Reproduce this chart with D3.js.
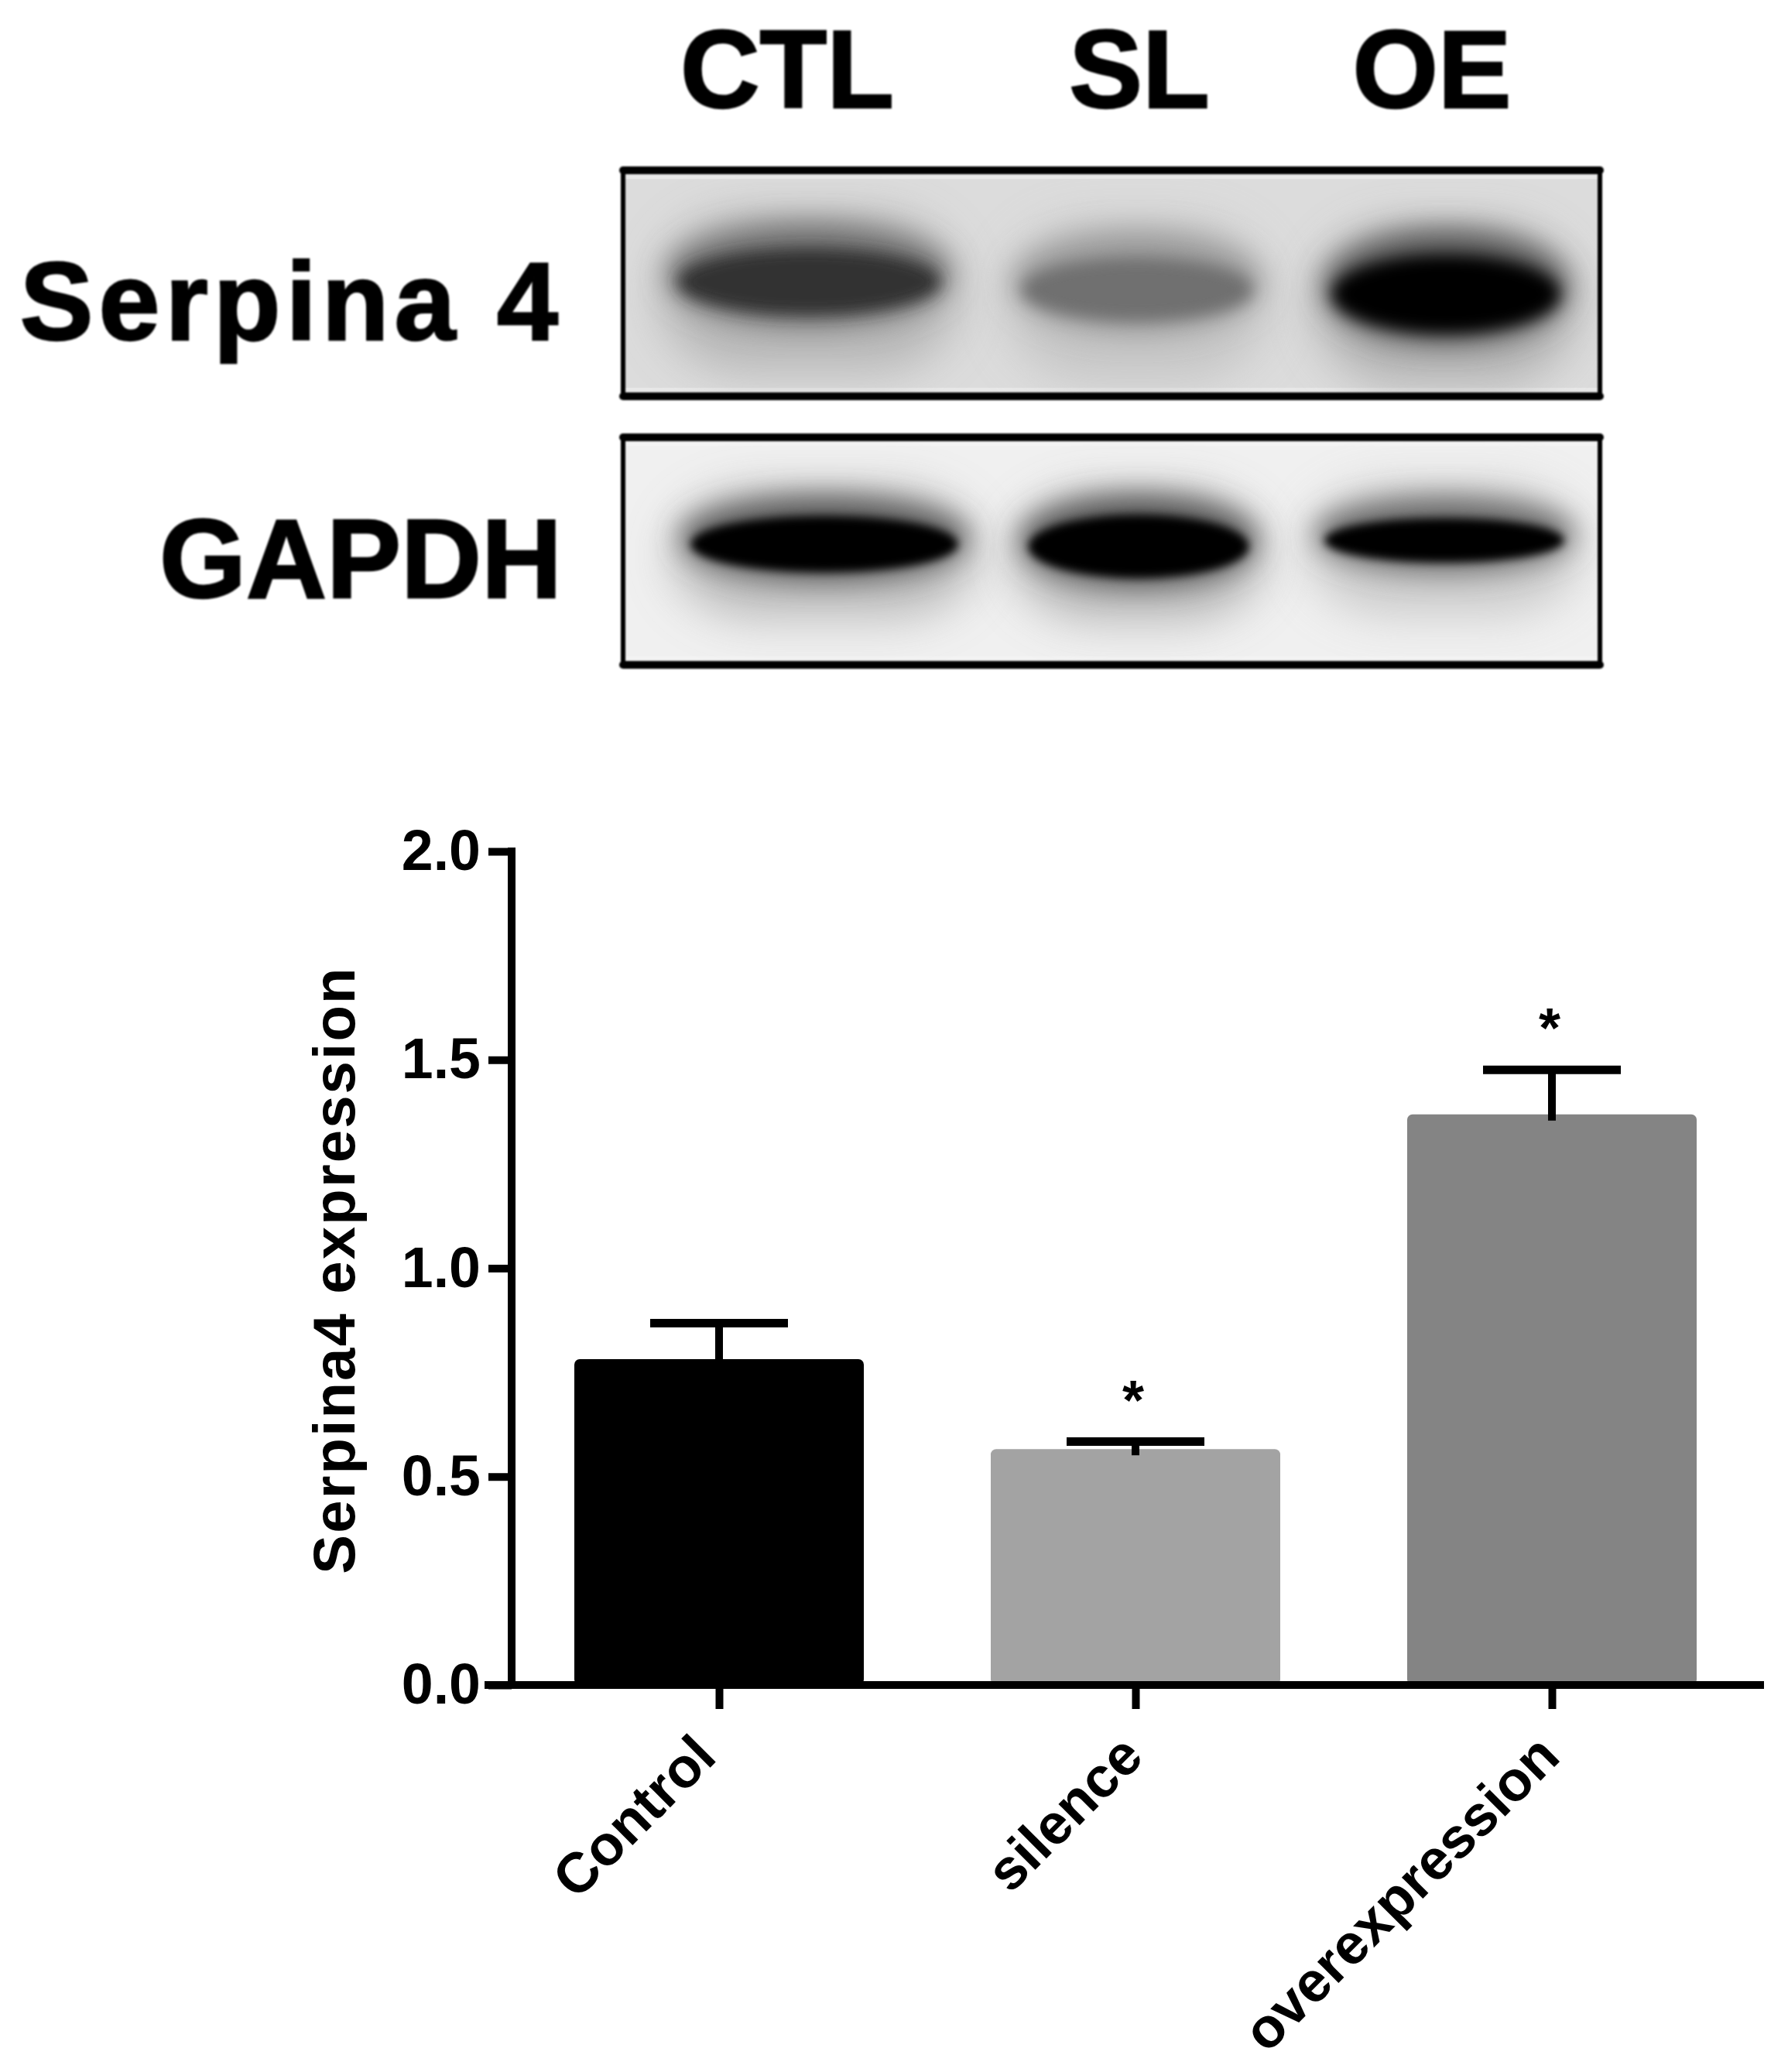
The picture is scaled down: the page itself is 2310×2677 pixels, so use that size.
<!DOCTYPE html>
<html><head><meta charset="utf-8">
<script src="https://cdn.jsdelivr.net/npm/d3@7"></script>
<style>html,body{margin:0;background:#fff}svg{display:block}text{font-family:"Liberation Sans",Arial,sans-serif;font-weight:700;fill:#000}</style>
</head><body><svg id="c" width="2310" height="2677"></svg>
<script>
// ---- bar chart data
const categories = ["Control", "silence", "overexpression"];
const means = [0.782, 0.566, 1.369];
const errorTops = [0.868, 0.584, 1.476];
const barColors = ["#000000", "#a3a3a3", "#848484"];
const significance = ["", "*", "*"];
const yTicks = [0, 0.5, 1, 1.5, 2];
const yLabel = "Serpina4 expression";
// ---- blot data
const laneLabels = ["CTL", "SL", "OE"];
const serpinaCentres = [1045, 1469, 1868];
const serpinaRows = [364, 374, 380];
const serpinaWidths = [346, 304, 300];
const serpinaHeights = [78, 74, 92];
const serpinaCore = ["#333333", "#707070", "#000000"];
const serpinaHalo = ["#a8a8a8", "#bcbcbc", "#a0a0a0"];
const gapdhCentres = [1065, 1471, 1866];
const gapdhRows = [703, 706, 698];
const gapdhWidths = [352, 290, 316];
const gapdhHeights = [66, 74, 52];
const gapdhCore = ["#000000", "#000000", "#040404"];
const gapdhHalo = ["#a8a8a8", "#a2a2a2", "#bcbcbc"];

const svg = d3.select("#c");
const defs = svg.append("defs");
[["b1", 1.1], ["b6", 6], ["b10", 10], ["b18", 18], ["b30", 30]].forEach(([id, s]) =>
  defs.append("filter").attr("id", id).attr("filterUnits", "userSpaceOnUse")
    .attr("x", 0).attr("y", 0).attr("width", 2310).attr("height", 2677)
    .append("feGaussianBlur").attr("stdDeviation", s));

// ---- blot panels
function panel(cfg) {
  const { name, y0, y1, bg, strip, cx, cy, w, h, core, halo, coreBlur, haloUp, haloDown, shoulderUp } = cfg;
  const clipId = "clip" + name;
  defs.append("clipPath").attr("id", clipId).append("rect").attr("x", 806).attr("y", y0).attr("width", 1260).attr("height", y1 - y0);
  const g = svg.append("g").attr("clip-path", `url(#${clipId})`);
  g.append("rect").attr("x", 806).attr("y", y0).attr("width", 1260).attr("height", y1 - y0).attr("fill", bg);
  g.selectAll("rect.strip").data([y0 + 7, y1 - 13]).join("rect").attr("class", "strip")
    .attr("x", 806).attr("y", d => d).attr("width", 1260).attr("height", 6).attr("fill", strip);
  // diffuse halo of each lane
  g.selectAll("rect.halo").data(cx).join("rect").attr("class", "halo")
    .attr("x", (d, i) => d - w[i] * 0.56).attr("width", (d, i) => w[i] * 1.12)
    .attr("y", (d, i) => cy[i] - haloUp).attr("height", haloUp + haloDown)
    .attr("rx", 110).attr("fill", (d, i) => halo[i]).attr("filter", "url(#b30)").attr("opacity", 0.75);
  // shoulder on the upper side of each band
  g.selectAll("ellipse.shoulder").data(cx).join("ellipse").attr("class", "shoulder")
    .attr("cx", d => d).attr("cy", (d, i) => cy[i] - shoulderUp * 0.35)
    .attr("rx", (d, i) => w[i] * 0.53).attr("ry", (d, i) => h[i] * 0.5 + shoulderUp)
    .attr("fill", (d, i) => d3.interpolateRgb(core[i], halo[i])(0.55)).attr("filter", "url(#b18)");
  // core of each band
  g.selectAll("ellipse.core").data(cx).join("ellipse").attr("class", "core")
    .attr("cx", d => d).attr("cy", (d, i) => cy[i])
    .attr("rx", (d, i) => w[i] * 0.49).attr("ry", (d, i) => h[i] * 0.55)
    .attr("fill", (d, i) => core[i]).attr("filter", `url(#${coreBlur})`);
  // frame: heavier top and bottom rails
  const frame = svg.append("g").attr("filter", "url(#b1)").attr("stroke", "#000").attr("stroke-linecap", "round");
  frame.selectAll("line.rail").data([y0 + 2, y1 - 2]).join("line").attr("class", "rail")
    .attr("x1", 805).attr("x2", 2067).attr("y1", d => d).attr("y2", d => d).attr("stroke-width", 10);
  frame.selectAll("line.side").data([805, 2067]).join("line").attr("class", "side")
    .attr("y1", y0 + 2).attr("y2", y1 - 2).attr("x1", d => d).attr("x2", d => d).attr("stroke-width", 6);
}
panel({ name: "s", y0: 218, y1: 514, bg: "#dcdcdc", strip: "#e8e8e8", cx: serpinaCentres, cy: serpinaRows, w: serpinaWidths, h: serpinaHeights,
  core: serpinaCore, halo: serpinaHalo, coreBlur: "b10", haloUp: 85, haloDown: 115, shoulderUp: 28 });
panel({ name: "g", y0: 563, y1: 861, bg: "#f0f0f0", strip: "#f3f3f3", cx: gapdhCentres, cy: gapdhRows, w: gapdhWidths, h: gapdhHeights,
  core: gapdhCore, halo: gapdhHalo, coreBlur: "b6", haloUp: 68, haloDown: 95, shoulderUp: 22 });

// ---- blot labels
const heading = svg.append("g").attr("filter", "url(#b1)").style("stroke", "#000").style("stroke-width", 2.5);
heading.selectAll("text.lane").data(laneLabels).join("text").attr("class", "lane")
  .attr("x", (d, i) => [1017, 1472, 1850][i]).attr("y", 139)
  .attr("text-anchor", "middle").attr("font-size", 142).text(d => d);
heading.append("text").attr("x", 728).attr("y", 439).attr("text-anchor", "end").attr("font-size", 142).attr("letter-spacing", 7).text("Serpina 4");
heading.append("text").attr("x", 726).attr("y", 772).attr("text-anchor", "end").attr("font-size", 144).text("GAPDH");

// ---- bar chart
const y = d3.scaleLinear().domain([0, 2]).range([2177, 1100]);
const x = d3.scalePoint().domain(categories).range([929, 2005]);
const barW = 374, capW = 178;
svg.selectAll("rect.bar").data(categories).join("rect").attr("class", "bar")
  .attr("x", d => x(d) - barW / 2).attr("width", barW)
  .attr("y", (d, i) => y(means[i])).attr("height", (d, i) => y(0) - y(means[i]))
  .attr("rx", 7).attr("fill", (d, i) => barColors[i]);
svg.selectAll("line.stem").data(categories).join("line").attr("class", "stem")
  .attr("x1", d => x(d)).attr("x2", d => x(d))
  .attr("y1", (d, i) => y(errorTops[i])).attr("y2", (d, i) => y(means[i]) + 8)
  .attr("stroke", "#000").attr("stroke-width", 10);
svg.selectAll("line.cap").data(categories).join("line").attr("class", "cap")
  .attr("x1", d => x(d) - capW / 2).attr("x2", d => x(d) + capW / 2)
  .attr("y1", (d, i) => y(errorTops[i])).attr("y2", (d, i) => y(errorTops[i]))
  .attr("stroke", "#000").attr("stroke-width", 11);
svg.selectAll("text.sig").data(categories).join("text").attr("class", "sig")
  .attr("x", d => x(d) - 3).attr("y", (d, i) => y(errorTops[i]) - 29)
  .attr("text-anchor", "middle").attr("font-size", 72).text((d, i) => significance[i]);

const yAxis = svg.append("g").attr("transform", "translate(661,0)")
  .call(d3.axisLeft(y).tickValues(yTicks).tickFormat(d3.format(".1f")).tickSize(30).tickPadding(10));
const xAxis = svg.append("g").attr("transform", "translate(0,2177)")
  .call(d3.axisBottom(x).tickSize(31).tickPadding(14));
[yAxis, xAxis].forEach(a => { a.selectAll("line").attr("stroke", "#000").attr("stroke-width", 10); });
yAxis.select(".domain").attr("d", `M0,${y(2) - 5}V${y(0) + 5}`).attr("stroke", "#000").attr("stroke-width", 10).attr("fill", "none");
xAxis.select(".domain").attr("d", "M626,0H2279").attr("stroke", "#000").attr("stroke-width", 10).attr("fill", "none");
yAxis.selectAll("text").attr("font-size", 73.5).style("font-family", '"Liberation Sans"').style("font-weight", 700);
const labelNudge = [-33, -19, -19];
xAxis.selectAll("text").attr("font-size", 73).style("font-family", '"Liberation Sans"').style("font-weight", 700)
  .attr("text-anchor", "end").attr("dy", null)
  .attr("transform", (d, i) => `translate(${labelNudge[i]},64) rotate(-45)`);
svg.append("text").attr("transform", "translate(458,1641) rotate(-90)").attr("text-anchor", "middle")
  .attr("font-size", 76).attr("letter-spacing", 2.2).text(yLabel);
</script></body></html>
